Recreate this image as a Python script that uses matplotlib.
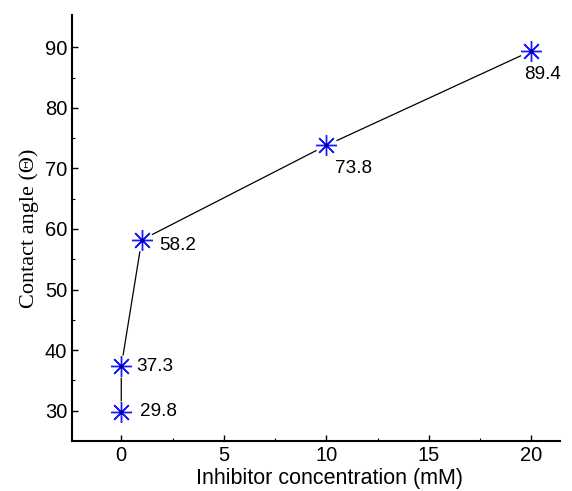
import matplotlib
matplotlib.use("Agg")
import matplotlib.pyplot as plt

conc = [0, 0, 1, 10, 20]  # mM
angle = [29.8, 37.3, 58.2, 73.8, 89.4]
labels = ["29.8", "37.3", "58.2", "73.8", "89.4"]

plt.rc("font", family="Liberation Sans", size=14.5)
fig = plt.figure(figsize=(5.72, 4.91), dpi=100)
ax = fig.add_axes([0.126, 0.102, 0.853, 0.867])

ax.plot(conc, angle, "-", c="k", lw=0.9, zorder=1)
# white halo so the line stops short of each marker
ax.plot(conc, angle, "o", ms=16, mfc="white", mec="none", zorder=2)
ax.plot(conc, angle, ls="none", marker=(8, 2, 0), ms=15, mec="#1a1aff", mew=1.0, zorder=3)
ax.plot(conc, angle, ".", ms=4, c="#0000aa", zorder=4)

offsets = [(19, 0), (15, 0), (17, -6), (9, -23), (-7, -24)]
for x, y, s, (dx, dy) in zip(conc, angle, labels, offsets):
    ax.annotate(s, (x, y), xytext=(dx, dy), textcoords="offset pixels",
                ha="left", va="center", fontsize=13.6)

ax.set_xlim(-2.4, 21.4)
ax.set_ylim(25, 95.3)
ax.set_xticks([0, 5, 10, 15, 20])
ax.set_xticks([2.5, 7.5, 12.5, 17.5], minor=True)
ax.set_yticks([30, 40, 50, 60, 70, 80, 90])
ax.set_yticks([35, 45, 55, 65, 75, 85], minor=True)
ax.tick_params(direction="in", length=4, width=1, labelsize=14.5)
ax.tick_params(which="minor", direction="in", length=2, width=0.8)
for side in ["top", "right"]:
    ax.spines[side].set_visible(False)
for side in ["left", "bottom"]:
    ax.spines[side].set_linewidth(1.5)

ax.set_xlabel("Inhibitor concentration (mM)", fontsize=15.5)
ax.xaxis.set_label_coords(0.527, -0.064)
ax.set_ylabel("Contact angle (Θ)", family="Liberation Serif", fontsize=16)
ax.yaxis.set_label_coords(-0.068, 0.5)

fig.savefig("out.png", dpi=100)
